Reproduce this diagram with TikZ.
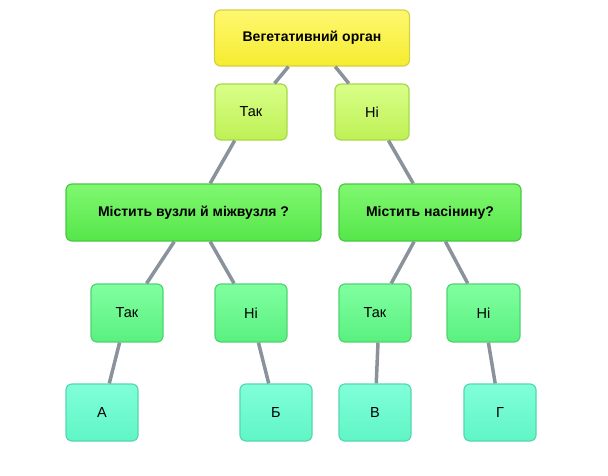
\documentclass[tikz,border=0pt]{standalone}
\usepackage{fontspec}
\setmainfont{Liberation Sans}
\definecolor{lnc}{HTML}{8A929C}
\definecolor{rootT}{HTML}{FFF870}\definecolor{rootB}{HTML}{F5EC30}\definecolor{rootD}{HTML}{D8D040}
\definecolor{oneT}{HTML}{D8FF88}\definecolor{oneB}{HTML}{BEF055}\definecolor{oneD}{HTML}{A8D84A}
\definecolor{twoT}{HTML}{80F870}\definecolor{twoB}{HTML}{55E64A}\definecolor{twoD}{HTML}{48C845}
\definecolor{thrT}{HTML}{80FFA0}\definecolor{thrB}{HTML}{5AF080}\definecolor{thrD}{HTML}{50D470}
\definecolor{fouT}{HTML}{80FFD8}\definecolor{fouB}{HTML}{60F5C5}\definecolor{fouD}{HTML}{55D8AE}
\tikzset{
  box/.style={draw, line width=1.2pt, rounded corners=6pt, inner sep=0pt, font=\fontsize{14.5}{16}\selectfont},
  rootbox/.style={box, draw=rootD, top color=rootT, bottom color=rootB, font=\bfseries\fontsize{14}{16}\selectfont},
  lvone/.style={box, draw=oneD, top color=oneT, bottom color=oneB},
  lvtwo/.style={box, draw=twoD, top color=twoT, bottom color=twoB, font=\bfseries\fontsize{14}{16}\selectfont},
  lvthree/.style={box, draw=thrD, top color=thrT, bottom color=thrB},
  lvfour/.style={box, draw=fouD, top color=fouT, bottom color=fouB},
  conn/.style={draw=lnc, line width=3.5pt}
}
\begin{document}
\begin{tikzpicture}[x=1pt,y=-1pt]
\useasboundingbox (0,0) rectangle (608,475);
\node[rootbox, minimum width=195pt, minimum height=56pt] (r) at (312,38) {Вегетативний орган};
\node[lvone, minimum width=72pt, minimum height=56pt] (t1) at (251,112) {Так};
\node[lvone, minimum width=74pt, minimum height=56pt] (n1) at (372,112) {Ні};
\node[lvtwo, minimum width=255pt, minimum height=57pt] (q1) at (193.5,212.5) {Містить вузли й міжвузля ?};
\node[lvtwo, minimum width=182pt, minimum height=57pt] (q2) at (430,212.5) {Містить насінину?};
\node[lvthree, minimum width=72pt, minimum height=58pt] (t2) at (127,313) {Так};
\node[lvthree, minimum width=72pt, minimum height=58pt] (n2) at (251,313) {Ні};
\node[lvthree, minimum width=72pt, minimum height=58pt] (t3) at (375,313) {Так};
\node[lvthree, minimum width=73pt, minimum height=58pt] (n3) at (483.5,313) {Ні};
\node[lvfour, minimum width=72pt, minimum height=57pt] (a) at (102,412.5) {А};
\node[lvfour, minimum width=72pt, minimum height=57pt] (b) at (276,412.5) {Б};
\node[lvfour, minimum width=72pt, minimum height=57pt] (v) at (375,412.5) {В};
\node[lvfour, minimum width=72pt, minimum height=57pt] (g) at (500,412.5) {Г};
\path[conn] (r) -- (t1);
\path[conn] (r) -- (n1);
\path[conn] (t1) -- (q1);
\path[conn] (n1) -- (q2);
\path[conn] (q1) -- (t2);
\path[conn] (q1) -- (n2);
\path[conn] (q2) -- (t3);
\path[conn] (q2) -- (n3);
\path[conn] (t2) -- (a);
\path[conn] (n2) -- (b);
\path[conn] ([xshift=3pt]t3.south) -- (v);
\path[conn] (n3) -- (g);
\end{tikzpicture}
\end{document}
